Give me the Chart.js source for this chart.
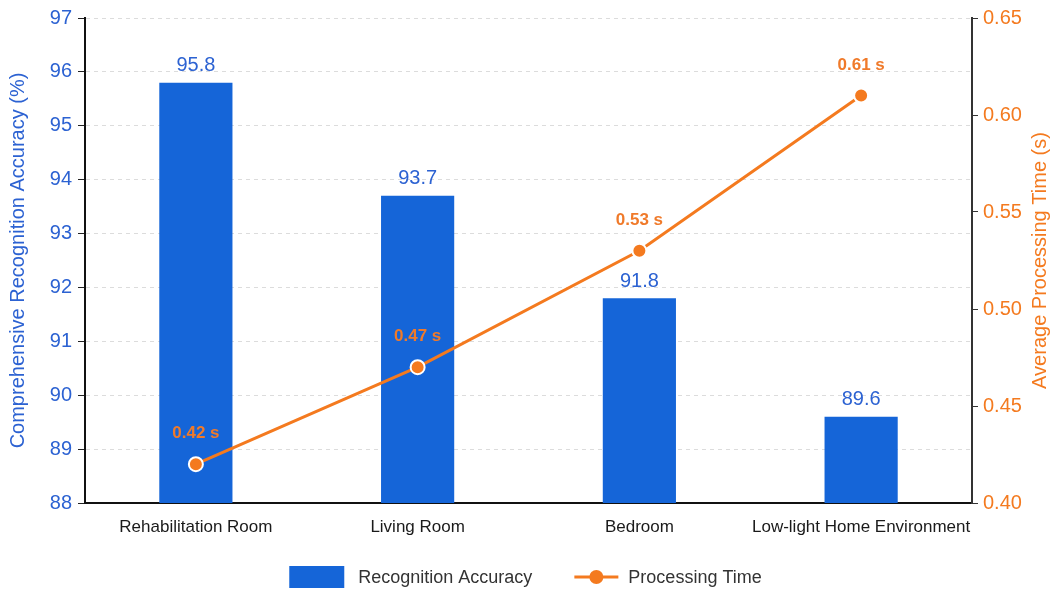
<!DOCTYPE html>
<html>
<head>
<meta charset="utf-8">
<script src="https://cdn.jsdelivr.net/npm/chart.js@4.4.0/dist/chart.umd.min.js"></script>
<style>
  html, body { margin: 0; padding: 0; background: #fff; }
  #wrap { width: 1055px; height: 590px; }
</style>
</head>
<body>
<div id="wrap"><canvas id="chart"></canvas></div>
<script>
// chart data
const rooms = ['Rehabilitation Room', 'Living Room', 'Bedroom', 'Low-light Home Environment'];
const accuracy = [95.8, 93.7, 91.8, 89.6];
const procTime = [0.42, 0.47, 0.53, 0.61];
// axis ranges: [min, max, step]
const accRange = [88, 97, 1];
const timeRange = [0.40, 0.65, 0.05];

const BLUE = '#1565d8';
const BLUE_TEXT = '#2c62d2';
const ORANGE = '#f47a1f';
const ORANGE_TEXT = '#f07a2a';
const FONT = '"Liberation Sans", Arial, Helvetica, sans-serif';
const TIME_TITLE = 'Average Processing Time (s)';

Chart.defaults.font.family = FONT;

// value labels above bars and points
const valueLabels = {
  id: 'valueLabels',
  afterDatasetsDraw(chart) {
    const ctx = chart.ctx;
    chart.data.datasets.forEach((ds, i) => {
      const meta = chart.getDatasetMeta(i);
      ctx.save();
      ctx.fillStyle = ds.labelColor;
      ctx.font = ds.labelFont;
      ctx.textAlign = 'center';
      ctx.textBaseline = 'bottom';
      meta.data.forEach((el, j) => {
        ctx.fillText(ds.labelFormat(ds.data[j]), el.x, el.y - ds.labelOffset);
      });
      ctx.restore();
    });
  }
};

// right axis title, reading bottom to top like the left one
const rightTitle = {
  id: 'rightTitle',
  afterDraw(chart) {
    const s = chart.scales.yTime;
    const ctx = chart.ctx;
    ctx.save();
    ctx.translate(s.right - 15, (s.top + s.bottom) / 2);
    ctx.rotate(-Math.PI / 2);
    ctx.font = '20px ' + FONT;
    ctx.fillStyle = ORANGE;
    ctx.textAlign = 'center';
    ctx.textBaseline = 'middle';
    ctx.fillText(TIME_TITLE, 0, 0);
    ctx.restore();
  }
};

// legend at the bottom: box for bars, line with dot for the line series
const bottomLegend = {
  id: 'bottomLegend',
  afterDraw(chart) {
    const ctx = chart.ctx;
    const dsBar = chart.data.datasets[1];
    const dsLine = chart.data.datasets[0];
    ctx.save();
    ctx.font = '18px ' + FONT;
    ctx.textBaseline = 'middle';
    const w1 = ctx.measureText(dsBar.label).width;
    const w2 = ctx.measureText(dsLine.label).width;
    const boxW = 55, boxH = 22, lineW = 44, gap1 = 14, gap2 = 10, spacing = 42;
    const total = boxW + gap1 + w1 + spacing + lineW + gap2 + w2;
    let x = (chart.width - total) / 2 - 2;
    const y = chart.height - 13;

    ctx.fillStyle = dsBar.backgroundColor;
    ctx.fillRect(x, y - boxH / 2, boxW, boxH);
    x += boxW + gap1;
    ctx.fillStyle = '#333';
    ctx.fillText(dsBar.label, x, y + 1);
    x += w1 + spacing;

    ctx.strokeStyle = dsLine.borderColor;
    ctx.lineWidth = 3;
    ctx.beginPath();
    ctx.moveTo(x, y);
    ctx.lineTo(x + lineW, y);
    ctx.stroke();
    ctx.fillStyle = dsLine.borderColor;
    ctx.beginPath();
    ctx.arc(x + lineW / 2, y, 7, 0, Math.PI * 2);
    ctx.fill();
    x += lineW + gap2;
    ctx.fillStyle = '#333';
    ctx.fillText(dsLine.label, x, y + 1);
    ctx.restore();
  }
};

const ctx = document.getElementById('chart').getContext('2d');
new Chart(ctx, {
  data: {
    labels: rooms,
    datasets: [
      {
        type: 'line',
        label: 'Processing Time',
        data: procTime,
        yAxisID: 'yTime',
        borderColor: ORANGE,
        backgroundColor: ORANGE,
        borderWidth: 3,
        pointRadius: 7,
        pointBackgroundColor: ORANGE,
        pointBorderColor: '#fff',
        pointBorderWidth: 2,
        tension: 0,
        order: 0,
        labelColor: ORANGE_TEXT,
        labelFont: 'bold 17px ' + FONT,
        labelOffset: 22,
        labelFormat: (v) => v.toFixed(2) + ' s',
      },
      {
        type: 'bar',
        label: 'Recognition Accuracy',
        data: accuracy,
        yAxisID: 'yAcc',
        backgroundColor: BLUE,
        barPercentage: 0.33,
        categoryPercentage: 1,
        order: 1,
        labelColor: BLUE_TEXT,
        labelFont: '20px ' + FONT,
        labelOffset: 7,
        labelFormat: (v) => v.toFixed(1),
      },
    ],
  },
  options: {
    responsive: true,
    maintainAspectRatio: false,
    animation: false,
    layout: { padding: { top: 18, left: 0, right: 0, bottom: 42 } },
    plugins: {
      legend: { display: false },
      tooltip: { enabled: false },
    },
    scales: {
      x: {
        grid: { display: false, drawTicks: false },
        border: { color: '#111', width: 2 },
        ticks: {
          color: '#1a1a1a',
          font: { size: 17 },
          padding: 14,
          maxRotation: 0,
          autoSkip: false,
        },
        afterFit: (scale) => { scale.height = 45; },
      },
      yAcc: {
        position: 'left',
        min: accRange[0],
        max: accRange[1],
        ticks: { stepSize: accRange[2], color: BLUE_TEXT, font: { size: 20 }, padding: 6 },
        grid: { color: '#dcdcdc', tickColor: '#222', tickLength: 7, lineWidth: 1 },
        border: { color: '#111', width: 2, dash: [4, 4] },
        title: {
          display: true,
          text: 'Comprehensive Recognition Accuracy (%)',
          color: BLUE_TEXT,
          font: { size: 20 },
          padding: { top: 6, bottom: 0 },
        },
        afterFit: (scale) => { scale.width = 85; },
      },
      yTime: {
        position: 'right',
        min: timeRange[0],
        max: timeRange[1],
        ticks: {
          stepSize: timeRange[2],
          color: ORANGE,
          font: { size: 20 },
          padding: 5,
          callback: (v) => Number(v).toFixed(2),
        },
        grid: { drawOnChartArea: false, tickColor: '#333', tickLength: 6 },
        border: { color: '#333', width: 2 },
        afterFit: (scale) => { scale.width = 83; },
      },
    },
  },
  plugins: [valueLabels, rightTitle, bottomLegend],
});
</script>
</body>
</html>
